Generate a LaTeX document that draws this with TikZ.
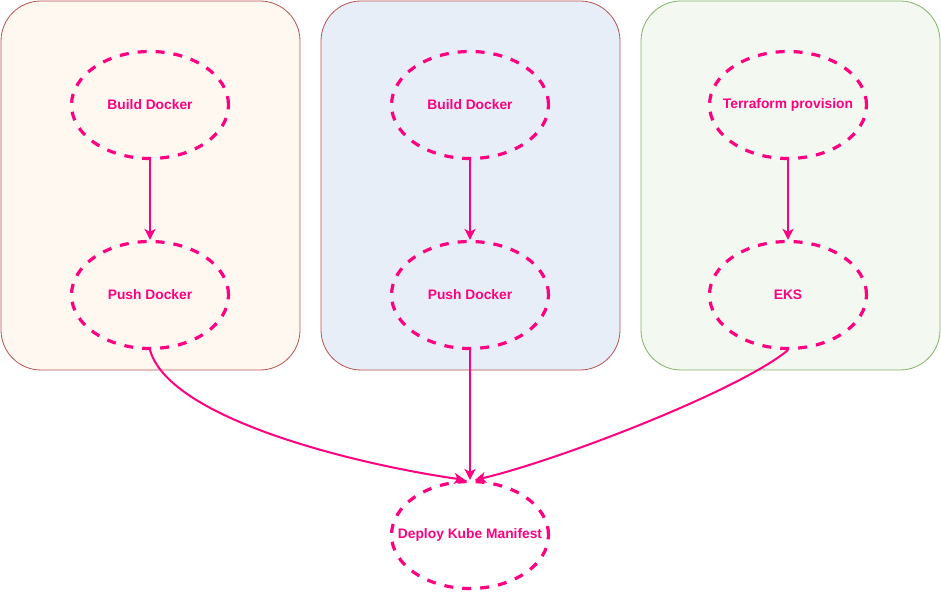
\documentclass[tikz,border=0pt]{standalone}
\usepackage{fontspec}
\setmainfont{Liberation Sans}
\usetikzlibrary{arrows.meta,shapes.geometric}
\definecolor{pinkline}{HTML}{FF0080}
\definecolor{redline}{HTML}{B85450}
\definecolor{greenline}{HTML}{82B366}
\definecolor{orangefill}{HTML}{FFF8F1}
\definecolor{bluefill}{HTML}{E8EEF8}
\definecolor{greenfill}{HTML}{F3F8F0}
\begin{document}
\begin{tikzpicture}[x=1pt, y=-1pt, line join=round,
	lane/.style={rounded corners=40pt, line width=0.8pt},
	job/.style={ellipse, draw=pinkline, dash pattern=on 9pt off 9pt, line width=3.2pt,
		minimum width=157pt, minimum height=107pt, inner ysep=0pt, inner xsep=-40pt,
		text=pinkline, font=\fontsize{13.8}{16}\selectfont\bfseries},
	flow/.style={draw=pinkline, line width=2pt, -{Stealth[length=11pt,width=11pt,inset=3pt]}}]
	\useasboundingbox (0,0) rectangle (941,593);
	
	% Các làn
	\draw[lane, draw=redline, fill=orangefill] (1,1) rectangle (300,370);
	\draw[lane, draw=redline, fill=bluefill] (321,1) rectangle (620,370);
	\draw[lane, draw=greenline, fill=greenfill] (641,1) rectangle (940,370);
	
	% Các bước
	\foreach \n/\x/\y/\lab in {
		bd1/150/105/Build Docker, pd1/150/295/Push Docker,
		bd2/470/105/Build Docker, pd2/470/295/Push Docker,
		tf/788/105/Terraform provision, eks/788/295/EKS,
		dk/470/535/Deploy Kube Manifest
	} \node[job] (\n) at (\x,\y) {\lab};
	
	% Mũi tên
	\draw[flow] (bd1.south) -- (pd1.north);
	\draw[flow] (bd2.south) -- (pd2.north);
	\draw[flow] (tf.south) -- (eks.north);
	\draw[flow] (pd2.south) -- (dk.north);
	\draw[flow] (pd1.south) .. controls (170,420) and (360,465) .. (dk.95);
	\draw[flow] (eks.south) .. controls (740,390) and (560,460) .. (dk.85);
\end{tikzpicture}
\end{document}
